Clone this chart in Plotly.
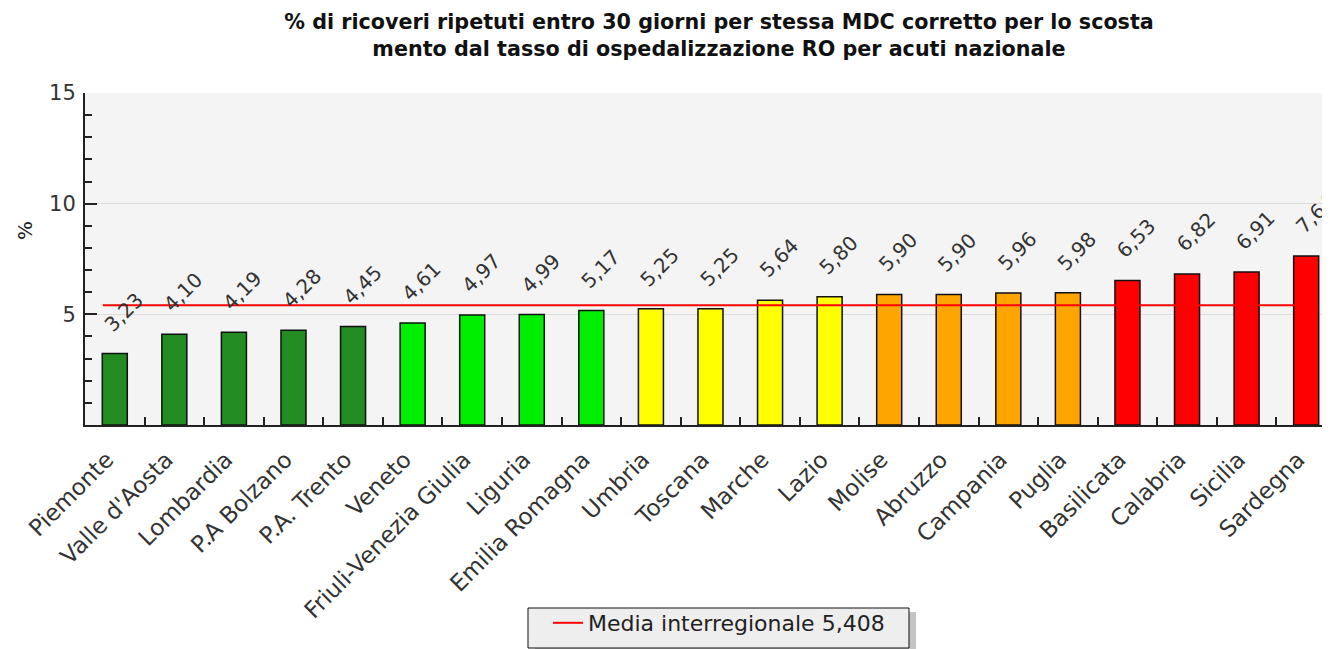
import plotly.graph_objects as go

categories = ["Piemonte", "Valle d'Aosta", "Lombardia", "P.A Bolzano", "P.A. Trento",
              "Veneto", "Friuli-Venezia Giulia", "Liguria", "Emilia Romagna", "Umbria",
              "Toscana", "Marche", "Lazio", "Molise", "Abruzzo", "Campania", "Puglia",
              "Basilicata", "Calabria", "Sicilia", "Sardegna"]
values = [3.23, 4.10, 4.19, 4.28, 4.45, 4.61, 4.97, 4.99, 5.17, 5.25, 5.25, 5.64,
          5.80, 5.90, 5.90, 5.96, 5.98, 6.53, 6.82, 6.91, 7.64]
bar_colors = ["#228B22"] * 5 + ["#00EE00"] * 4 + ["#FFFF00"] * 4 + ["#FFA500"] * 4 + ["#FF0000"] * 4
media = 5.408
media_label = "Media interregionale 5,408"
title_text = ("% di ricoveri ripetuti entro 30 giorni per stessa MDC corretto per lo scosta"
              "<br>mento dal tasso di ospedalizzazione RO per acuti nazionale")

n = len(categories)
idx = list(range(n))
FONT = "DejaVu Sans"

# page body adds an 8px offset; figure coordinates = reference pixels - 8
OFF = 8
W, H = 1330 - OFF, 649 - OFF
L, R, T = 85 - OFF, 0, 93 - OFF
PLOT_BOTTOM = 425 - OFF
B = H - PLOT_BOTTOM
PW = W - L - R
PH = PLOT_BOTTOM - T


def px(xref_px):
    return (xref_px - OFF - L) / PW


def py(yref_px):
    return (PLOT_BOTTOM - (yref_px - OFF)) / PH


fig = go.Figure()
fig.add_trace(go.Scatter(
    x=[-0.2, n - 1 + 0.2], y=[media, media], mode="lines",
    line=dict(color="#FF0000", width=2), name=media_label, showlegend=True,
    hoverinfo="skip"))
fig.add_trace(go.Bar(
    x=idx, y=values, width=0.42, marker=dict(color=bar_colors, line=dict(color="#111111", width=1.5)),
    showlegend=False))

annotations = []
for i, v in zip(idx, values):
    annotations.append(dict(
        x=i, y=v, xref="x", yref="y", text=f"{v:.2f}".replace(".", ","),
        showarrow=False, textangle=-45, xshift=9, yshift=42,
        font=dict(family=FONT, size=20, color="#333333")))
annotations.append(dict(
    x=px(25), y=py(231), xref="paper", yref="paper", text="%", showarrow=False,
    xanchor="center", yanchor="middle",
    textangle=-90, font=dict(family=FONT, size=20, color="#222222")))

shapes = [
    # legend shadow
    dict(type="rect", xref="paper", yref="paper", x0=px(535), x1=px(916), y0=py(612), y1=py(655),
         fillcolor="#c4c4c4", line=dict(width=0), layer="above"),
    # legend box
    dict(type="rect", xref="paper", yref="paper", x0=px(528), x1=px(909), y0=py(608), y1=py(648),
         fillcolor="#eeeeee", line=dict(color="#111111", width=1), layer="above"),
]

fig.update_layout(
    width=W, height=H,
    margin=dict(l=L, r=R, t=T, b=B, autoexpand=False),
    paper_bgcolor="white", plot_bgcolor="#f4f4f4",
    title=dict(text=title_text, x=(719 - OFF) / W, xanchor="center", xref="container",
               y=1 - 21 / H, yanchor="top", yref="container",
               font=dict(family=FONT, size=20.7, color="#111111", weight="bold")),
    font=dict(family=FONT, color="#222222"),
    xaxis=dict(range=[-0.5, n - 0.6], tickmode="array", tickvals=idx, ticktext=categories,
               tickangle=-45, ticks="", showgrid=False, zeroline=False, automargin=False,
               showline=True, linecolor="#222222", linewidth=2,
               ticklabelshift=-8, ticklabelstandoff=10,
               tickfont=dict(family=FONT, size=23, color="#333333"),
               minor=dict(tickvals=[i + 0.5 for i in idx[:-1]], ticks="inside", ticklen=8,
                          tickcolor="#222222", tickwidth=1.5, showgrid=False)),
    yaxis=dict(range=[0, 15], tickvals=[5, 10, 15], ticks="inside", ticklen=12,
               tickcolor="#222222", tickwidth=1.5, showgrid=True, gridcolor="#dcdcdc",
               gridwidth=1, zeroline=False, showline=True, linecolor="#222222", linewidth=2,
               automargin=False, ticklabelstandoff=3,
               tickfont=dict(family=FONT, size=21, color="#333333"),
               minor=dict(dtick=1, ticks="inside", ticklen=7, tickcolor="#222222",
                          tickwidth=1.5, showgrid=False)),
    legend=dict(x=px(548), xanchor="left", y=py(623), yanchor="middle",
                bgcolor="rgba(0,0,0,0)", borderwidth=0, itemwidth=30,
                font=dict(family=FONT, size=22, color="#222222")),
    annotations=annotations,
    shapes=shapes,
)

fig.write_html("out.html")
